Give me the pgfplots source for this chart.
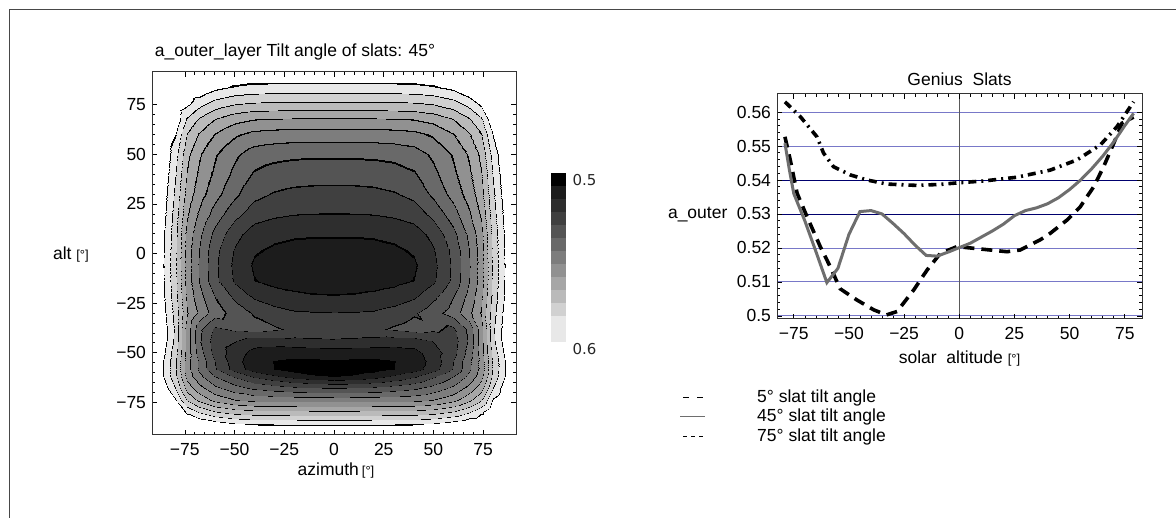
\documentclass[border=0pt]{standalone}
\usepackage{fontspec}
\setmainfont{Liberation Sans}
\newfontfamily\dejavu{DejaVu Sans}
\usepackage{pgfplots}
\pgfplotsset{compat=1.18}
\usepackage{pgfplotstable}

\definecolor{gridnavy}{RGB}{0,0,110}
\definecolor{gridlav}{RGB}{120,120,200}
\definecolor{curvegray}{RGB}{110,110,110}

% filled contour colormap: 13 levels (12 grays + white); each level starts with a thin black stripe (contour line)
\xdef\cmapspec{}
\foreach \g/\s in {0/1,0.11/2,0.18/2,0.25/2,0.33/2,0.41/3,0.49/3,0.57/4,0.65/4,0.73/4,0.82/4,0.91/4,1/5}{%
  \foreach \i in {1,...,\s}{\xdef\cmapspec{\cmapspec gray=(0) }}%
  \pgfmathtruncatemacro\r{40-\s}%
  \foreach \i in {1,...,\r}{\xdef\cmapspec{\cmapspec gray=(\g) }}%
}
\xdef\cmapspec{\cmapspec gray=(1)}
\edef\tmp{\noexpand\pgfplotsset{colormap={contourmap}{\cmapspec}}}
\tmp

\pgfplotstableread{
az alt v
-92 -92 0.625
-86 -92 0.625
-80 -92 0.625
-74 -92 0.625
-68 -92 0.625
-60 -92 0.625
-50 -92 0.625
-40 -92 0.625
-30 -92 0.625
-20 -92 0.625
-10 -92 0.625
0 -92 0.625
10 -92 0.625
20 -92 0.625
30 -92 0.625
40 -92 0.625
50 -92 0.625
60 -92 0.625
68 -92 0.625
74 -92 0.625
80 -92 0.625
86 -92 0.625
92 -92 0.625
-92 -86 0.625
-86 -86 0.625
-80 -86 0.625
-74 -86 0.617
-68 -86 0.6107
-60 -86 0.605
-50 -86 0.6015
-40 -86 0.6002
-30 -86 0.5998
-20 -86 0.5997
-10 -86 0.5996
0 -86 0.5996
10 -86 0.5996
20 -86 0.5997
30 -86 0.5998
40 -86 0.6002
50 -86 0.6015
60 -86 0.605
68 -86 0.6107
74 -86 0.617
80 -86 0.625
86 -86 0.625
92 -86 0.625
-92 -80 0.625
-86 -80 0.625
-80 -80 0.615
-74 -80 0.5989
-68 -80 0.5913
-60 -80 0.5843
-50 -80 0.58
-40 -80 0.5783
-30 -80 0.5778
-20 -80 0.5776
-10 -80 0.5775
0 -80 0.5775
10 -80 0.5775
20 -80 0.5776
30 -80 0.5778
40 -80 0.5783
50 -80 0.58
60 -80 0.5843
68 -80 0.5913
74 -80 0.5989
80 -80 0.615
86 -80 0.625
92 -80 0.625
-92 -74 0.625
-86 -74 0.6145
-80 -74 0.6014
-74 -74 0.5827
-68 -74 0.5734
-60 -74 0.5645
-50 -74 0.5588
-40 -74 0.5564
-30 -74 0.5558
-20 -74 0.5555
-10 -74 0.5554
0 -74 0.5554
10 -74 0.5554
20 -74 0.5555
30 -74 0.5558
40 -74 0.5564
50 -74 0.5588
60 -74 0.5645
68 -74 0.5734
74 -74 0.5827
80 -74 0.6014
86 -74 0.6145
92 -74 0.625
-92 -68 0.6208
-86 -68 0.6056
-80 -68 0.592
-74 -68 0.5717
-68 -68 0.5618
-60 -68 0.5523
-50 -68 0.5453
-40 -68 0.5403
-30 -68 0.5376
-20 -68 0.5353
-10 -68 0.5339
0 -68 0.5333
10 -68 0.5339
20 -68 0.5353
30 -68 0.5376
40 -68 0.5403
50 -68 0.5453
60 -68 0.5523
68 -68 0.5618
74 -68 0.5717
80 -68 0.592
86 -68 0.6056
92 -68 0.6208
-92 -62 0.6163
-86 -62 0.6005
-80 -62 0.5859
-74 -62 0.5637
-68 -62 0.5525
-60 -62 0.5414
-50 -62 0.5318
-40 -62 0.5234
-30 -62 0.5178
-20 -62 0.5129
-10 -62 0.5096
0 -62 0.5083
10 -62 0.5096
20 -62 0.5129
30 -62 0.5178
40 -62 0.5234
50 -62 0.5318
60 -62 0.5414
68 -62 0.5525
74 -62 0.5637
80 -62 0.5859
86 -62 0.6005
92 -62 0.6163
-92 -58 0.6161
-86 -58 0.6003
-80 -58 0.5851
-74 -58 0.5617
-68 -58 0.5487
-60 -58 0.534
-50 -58 0.5214
-40 -58 0.5128
-30 -58 0.5087
-20 -58 0.5056
-10 -58 0.5038
0 -58 0.5033
10 -58 0.5038
20 -58 0.5056
30 -58 0.5087
40 -58 0.5128
50 -58 0.5214
60 -58 0.534
68 -58 0.5487
74 -58 0.5617
80 -58 0.5851
86 -58 0.6003
92 -58 0.6161
-92 -54 0.6163
-86 -54 0.6005
-80 -54 0.5853
-74 -54 0.5617
-68 -54 0.5483
-60 -54 0.5332
-50 -54 0.52
-40 -54 0.5116
-30 -54 0.5085
-20 -54 0.5074
-10 -54 0.5076
0 -54 0.5079
10 -54 0.5076
20 -54 0.5074
30 -54 0.5085
40 -54 0.5116
50 -54 0.52
60 -54 0.5332
68 -54 0.5483
74 -54 0.5617
80 -54 0.5853
86 -54 0.6005
92 -54 0.6163
-92 -50 0.6178
-86 -50 0.6022
-80 -50 0.5867
-74 -50 0.5631
-68 -50 0.5458
-60 -50 0.53
-50 -50 0.5213
-40 -50 0.5139
-30 -50 0.5119
-20 -50 0.5115
-10 -50 0.5118
0 -50 0.5121
10 -50 0.5118
20 -50 0.5115
30 -50 0.5119
40 -50 0.5139
50 -50 0.5213
60 -50 0.53
68 -50 0.5458
74 -50 0.5631
80 -50 0.5867
86 -50 0.6022
92 -50 0.6178
-92 -44 0.62
-86 -44 0.6048
-80 -44 0.5898
-74 -44 0.5633
-68 -44 0.5433
-60 -44 0.5292
-50 -44 0.5254
-40 -44 0.5208
-30 -44 0.5208
-20 -44 0.5221
-10 -44 0.5232
0 -44 0.5238
10 -44 0.5232
20 -44 0.5221
30 -44 0.5208
40 -44 0.5208
50 -44 0.5254
60 -44 0.5292
68 -44 0.5433
74 -44 0.5633
80 -44 0.5898
86 -44 0.6048
92 -44 0.62
-92 -38 0.62
-86 -38 0.6049
-80 -38 0.5905
-74 -38 0.5633
-68 -38 0.5442
-60 -38 0.5317
-50 -38 0.535
-40 -38 0.5371
-30 -38 0.5346
-20 -38 0.5317
-10 -38 0.531
0 -38 0.5308
10 -38 0.531
20 -38 0.5317
30 -38 0.5346
40 -38 0.5371
50 -38 0.535
60 -38 0.5317
68 -38 0.5442
74 -38 0.5633
80 -38 0.5905
86 -38 0.6049
92 -38 0.62
-92 -30 0.6188
-86 -30 0.6033
-80 -30 0.5889
-74 -30 0.5675
-68 -30 0.5567
-60 -30 0.5458
-50 -30 0.5383
-40 -30 0.5325
-30 -30 0.5288
-20 -30 0.5263
-10 -30 0.5257
0 -30 0.5254
10 -30 0.5257
20 -30 0.5263
30 -30 0.5288
40 -30 0.5325
50 -30 0.5383
60 -30 0.5458
68 -30 0.5567
74 -30 0.5675
80 -30 0.5889
86 -30 0.6033
92 -30 0.6188
-92 -22 0.6174
-86 -22 0.6017
-80 -22 0.587
-74 -22 0.565
-68 -22 0.5533
-60 -22 0.5417
-50 -22 0.5317
-40 -22 0.5242
-30 -22 0.5205
-20 -22 0.5188
-10 -22 0.5178
0 -22 0.5175
10 -22 0.5178
20 -22 0.5188
30 -22 0.5205
40 -22 0.5242
50 -22 0.5317
60 -22 0.5417
68 -22 0.5533
74 -22 0.565
80 -22 0.587
86 -22 0.6017
92 -22 0.6174
-92 -14 0.6168
-86 -14 0.6011
-80 -14 0.586
-74 -14 0.5628
-68 -14 0.55
-60 -14 0.5356
-50 -14 0.5238
-40 -14 0.5171
-30 -14 0.5148
-20 -14 0.5137
-10 -14 0.5133
0 -14 0.5133
10 -14 0.5133
20 -14 0.5137
30 -14 0.5148
40 -14 0.5171
50 -14 0.5238
60 -14 0.5356
68 -14 0.55
74 -14 0.5628
80 -14 0.586
86 -14 0.6011
92 -14 0.6168
-92 -6 0.6167
-86 -6 0.6008
-80 -6 0.5858
-74 -6 0.5625
-68 -6 0.5496
-60 -6 0.535
-50 -6 0.5229
-40 -6 0.5158
-30 -6 0.5133
-20 -6 0.5121
-10 -6 0.5117
0 -6 0.5117
10 -6 0.5117
20 -6 0.5121
30 -6 0.5133
40 -6 0.5158
50 -6 0.5229
60 -6 0.535
68 -6 0.5496
74 -6 0.5625
80 -6 0.5858
86 -6 0.6008
92 -6 0.6167
-92 2 0.6169
-86 2 0.6012
-80 2 0.5862
-74 2 0.563
-68 2 0.5502
-60 2 0.5359
-50 2 0.5243
-40 2 0.5178
-30 2 0.5156
-20 2 0.5145
-10 2 0.5142
0 2 0.5142
10 2 0.5142
20 2 0.5145
30 2 0.5156
40 2 0.5178
50 2 0.5243
60 2 0.5359
68 2 0.5502
74 2 0.563
80 2 0.5862
86 2 0.6012
92 2 0.6169
-92 10 0.6174
-86 10 0.6017
-80 10 0.5868
-74 10 0.5641
-68 10 0.5522
-60 10 0.5392
-50 10 0.5278
-40 10 0.5212
-30 10 0.5189
-20 10 0.5179
-10 10 0.5175
0 10 0.5175
10 10 0.5175
20 10 0.5179
30 10 0.5189
40 10 0.5212
50 10 0.5278
60 10 0.5392
68 10 0.5522
74 10 0.5641
80 10 0.5868
86 10 0.6017
92 10 0.6174
-92 20 0.6188
-86 20 0.6033
-80 20 0.5886
-74 20 0.5681
-68 20 0.5574
-60 20 0.5465
-50 20 0.5359
-40 20 0.5289
-30 20 0.5266
-20 20 0.5254
-10 20 0.5251
0 20 0.525
10 20 0.5251
20 20 0.5254
30 20 0.5266
40 20 0.5289
50 20 0.5359
60 20 0.5465
68 20 0.5574
74 20 0.5681
80 20 0.5886
86 20 0.6033
92 20 0.6188
-92 30 0.62
-86 30 0.6048
-80 30 0.5904
-74 30 0.5719
-68 30 0.5623
-60 30 0.5532
-50 30 0.5436
-40 30 0.5358
-30 30 0.5328
-20 30 0.5314
-10 30 0.5309
0 30 0.5308
10 30 0.5309
20 30 0.5314
30 30 0.5328
40 30 0.5358
50 30 0.5436
60 30 0.5532
68 30 0.5623
74 30 0.5719
80 30 0.5904
86 30 0.6048
92 30 0.62
-92 40 0.6218
-86 40 0.6067
-80 40 0.5926
-74 40 0.5747
-68 40 0.5654
-60 40 0.5568
-50 40 0.5479
-40 40 0.541
-30 40 0.5383
-20 40 0.5372
-10 40 0.5368
0 40 0.5367
10 40 0.5368
20 40 0.5372
30 40 0.5383
40 40 0.541
50 40 0.5479
60 40 0.5568
68 40 0.5654
74 40 0.5747
80 40 0.5926
86 40 0.6067
92 40 0.6218
-92 50 0.6239
-86 50 0.6092
-80 50 0.5954
-74 50 0.5774
-68 50 0.5681
-60 50 0.5595
-50 50 0.5518
-40 50 0.5463
-30 50 0.5445
-20 50 0.5436
-10 50 0.5434
0 50 0.5433
10 50 0.5434
20 50 0.5436
30 50 0.5445
40 50 0.5463
50 50 0.5518
60 50 0.5595
68 50 0.5681
74 50 0.5774
80 50 0.5954
86 50 0.6092
92 50 0.6239
-92 60 0.625
-86 60 0.6141
-80 60 0.601
-74 60 0.5833
-68 60 0.5746
-60 60 0.5667
-50 60 0.56
-40 60 0.5564
-30 60 0.5553
-20 60 0.5548
-10 60 0.5546
0 60 0.5546
10 60 0.5546
20 60 0.5548
30 60 0.5553
40 60 0.5564
50 60 0.56
60 60 0.5667
68 60 0.5746
74 60 0.5833
80 60 0.601
86 60 0.6141
92 60 0.625
-92 68 0.625
-86 68 0.62
-80 68 0.6078
-74 68 0.5908
-68 68 0.5828
-60 68 0.5753
-50 68 0.57
-40 68 0.5674
-30 68 0.5667
-20 68 0.5663
-10 68 0.5663
0 68 0.5663
10 68 0.5663
20 68 0.5663
30 68 0.5667
40 68 0.5674
50 68 0.57
60 68 0.5753
68 68 0.5828
74 68 0.5908
80 68 0.6078
86 68 0.62
92 68 0.625
-92 76 0.625
-86 76 0.625
-80 76 0.6184
-74 76 0.6028
-68 76 0.5955
-60 76 0.5888
-50 76 0.5848
-40 76 0.5832
-30 76 0.5828
-20 76 0.5826
-10 76 0.5825
0 76 0.5825
10 76 0.5825
20 76 0.5826
30 76 0.5828
40 76 0.5832
50 76 0.5848
60 76 0.5888
68 76 0.5955
74 76 0.6028
80 76 0.6184
86 76 0.625
92 76 0.625
-92 84 0.625
-86 84 0.625
-80 84 0.625
-74 84 0.6153
-68 84 0.6088
-60 84 0.6029
-50 84 0.5995
-40 84 0.5981
-30 84 0.5978
-20 84 0.5976
-10 84 0.5975
0 84 0.5975
10 84 0.5975
20 84 0.5976
30 84 0.5978
40 84 0.5981
50 84 0.5995
60 84 0.6029
68 84 0.6088
74 84 0.6153
80 84 0.625
86 84 0.625
92 84 0.625
-92 92 0.625
-86 92 0.625
-80 92 0.625
-74 92 0.625
-68 92 0.6225
-60 92 0.6173
-50 92 0.6143
-40 92 0.613
-30 92 0.6127
-20 92 0.6126
-10 92 0.6125
0 92 0.6125
10 92 0.6125
20 92 0.6126
30 92 0.6127
40 92 0.613
50 92 0.6143
60 92 0.6173
68 92 0.6225
74 92 0.625
80 92 0.625
86 92 0.625
92 92 0.625
}\contourdata

\pgfplotstableread{
x y
-79 0.5527
-76.6 0.5459
-73.5 0.5361
-69 0.5292
-63 0.5204
-58.5 0.5145
-54 0.5080
-46.4 0.5047
-38.8 0.5018
-33 0.5003
-28.2 0.5013
-20.7 0.5076
-14.6 0.5135
-8.6 0.5184
-1 0.5204
6.5 0.5199
14 0.5194
21.6 0.5189
27.6 0.5194
36.7 0.5224
41.2 0.5243
48.8 0.5282
54.8 0.5321
60.9 0.5380
65.4 0.5439
70 0.5508
73.7 0.5567
79 0.5585
}\tiltfive

\pgfplotstableread{
x y
-79 0.5508
-77 0.5430
-75 0.5360
-70 0.5280
-65 0.5190
-60 0.5098
-55 0.5140
-50 0.5240
-45 0.5307
-40 0.5310
-35 0.5300
-30 0.5272
-25 0.5242
-20 0.5208
-15 0.5178
-10 0.5176
-5 0.5188
0 0.5201
5 0.5214
10 0.5232
15 0.5250
20 0.5270
25 0.5295
30 0.5310
35 0.5318
40 0.5330
45 0.5348
50 0.5372
55 0.5400
60 0.5433
65 0.5470
70 0.5512
75 0.5560
79 0.5596
}\tiltfortyfive

\pgfplotstableread{
x y
-79 0.5630
-72 0.5586
-64.5 0.5527
-61.5 0.5479
-57 0.5439
-49.4 0.5415
-41.8 0.5400
-32.8 0.5388
-19.2 0.5384
-8.6 0.5387
0 0.5392
11 0.5397
26 0.5408
41.2 0.5429
53.3 0.5459
63.9 0.5503
71.5 0.5557
79 0.5630
}\tiltseventyfive

\pgfplotsset{
  myframe/.style={
    scale only axis,
    tick align=inside,
    major tick length=5pt,
    minor tick length=3pt,
    tick style={black, line width=0.6pt},
    axis line style={black!80, line width=1pt},
    /pgf/number format/assume math mode=true,
  }
}

\begin{document}
\fontsize{17.5}{21}\selectfont
\begin{tikzpicture}[x=1pt,y=1pt]
\useasboundingbox (0,0) rectangle (1176,518);
\draw[line width=1.3pt, black!72] (9.5,0) -- (9.5,508.5) -- (1176,508.5);

% ---------------- left: filled contour ----------------
\begin{axis}[myframe,
  at={(152pt,83pt)}, anchor=south west,
  width=364pt, height=363pt,
  xmin=-91.5, xmax=91.5, ymin=-91.5, ymax=91.5,
  axis on top,
  xtick={-75,-50,-25,0,25,50,75},
  xticklabels={−75,−50,−25,0,25,50,75},
  ytick={-75,-50,-25,0,25,50,75},
  yticklabels={−75,−50,−25,0,25,50,75},
  minor x tick num=4, minor y tick num=4,
  xticklabel style={yshift=-2pt},
  colormap name=contourmap,
  colormap access=piecewise constant,
  point meta min=0.5, point meta max=0.608333,
]
\addplot[surf, shader=interp, mesh/cols=23, point meta=explicit]
  table[x=az, y=alt, meta=v] {\contourdata};
\end{axis}

% colorbar
\begin{axis}[
  at={(542pt,176pt)}, anchor=south west,
  scale only axis, width=16pt, height=169pt,
  hide axis, xmin=0, xmax=1, ymin=0, ymax=1,
  colormap={barmap}{gray=(0) gray=(0.11) gray=(0.18) gray=(0.25) gray=(0.33) gray=(0.41) gray=(0.49) gray=(0.57) gray=(0.65) gray=(0.73) gray=(0.82) gray=(0.91) gray=(0.91)},
  colormap access=piecewise constant,
  point meta min=0.5, point meta max=0.6,
  colorbar,
  colorbar/width=16pt,
  colorbar style={
    at={(parent axis.south west)}, anchor=south west,
    height=169pt,
    y dir=reverse,
    ytick={0.5,0.6}, yticklabels={0.5,0.6},
    yticklabel pos=right,
    yticklabel style={font=\dejavu\fontsize{15}{18}\selectfont, yshift=-7pt, text=black!85},
    axis line style={draw=none},
    major tick length=0pt, minor tick length=0pt,
  },
]
\end{axis}

\node[anchor=base] at (295,461.5) {a\_outer\_layer Tilt angle of slats: 45°};
\node[anchor=base] at (336,42) {azimuth\,{\fontsize{13}{15}\selectfont[°]}};
\node[anchor=base west] at (47,258) {alt {\fontsize{13}{15}\selectfont[°]}};

% ---------------- right: line chart ----------------
\begin{axis}[myframe,
  at={(777pt,199pt)}, anchor=south west,
  width=365pt, height=225pt,
  xmin=-82.6, xmax=82.8, ymin=0.4991, ymax=0.5653,
  xtick={-75,-50,-25,0,25,50,75},
  xticklabels={−75,−50,−25,0,25,50,75},
  ytick={0.5,0.51,0.52,0.53,0.54,0.55,0.56},
  yticklabels={0.5,0.51,0.52,0.53,0.54,0.55,0.56},
  minor x tick num=4, minor y tick num=4,
  xticklabel style={yshift=-2pt},
  ymajorgrids,
  major grid style={gridlav, line width=0.9pt},
  extra y ticks={0.53,0.54},
  extra y tick labels={},
  extra y tick style={grid=major, major grid style={gridnavy, line width=0.9pt}},
  extra x ticks={0},
  extra x tick labels={},
  extra x tick style={grid=major, major grid style={black!65, line width=0.9pt}},
]
\addplot[black, line width=3.6pt, dash pattern=on 11pt off 7pt] table[x=x,y=y] {\tiltfive};
\addplot[black, line width=3.6pt, dash pattern=on 8pt off 5pt on 2pt off 5pt] table[x=x,y=y] {\tiltseventyfive};
\addplot[curvegray, line width=3pt] table[x=x,y=y] {\tiltfortyfive};
\end{axis}

\node[anchor=base] at (959.5,432) {Genius\ \ Slats};
\node[anchor=base] at (959.5,154) {solar\ \ altitude {\fontsize{13}{15}\selectfont[°]}};
\node[anchor=base west] at (662,299) {a\_outer};

% legend
\draw[black, line width=0.8pt, dash pattern=on 6pt off 8pt] (683,121) -- (705,121);
\draw[curvegray, line width=0.8pt] (680,102) -- (705,102);
\draw[black, line width=0.8pt, dash pattern=on 4pt off 4pt] (683,82) -- (705,82);
\node[anchor=base west, inner sep=0pt] at (757,115) {5° slat tilt angle};
\node[anchor=base west, inner sep=0pt] at (757,96) {45° slat tilt angle};
\node[anchor=base west, inner sep=0pt] at (757,76) {75° slat tilt angle};
\end{tikzpicture}
\end{document}
